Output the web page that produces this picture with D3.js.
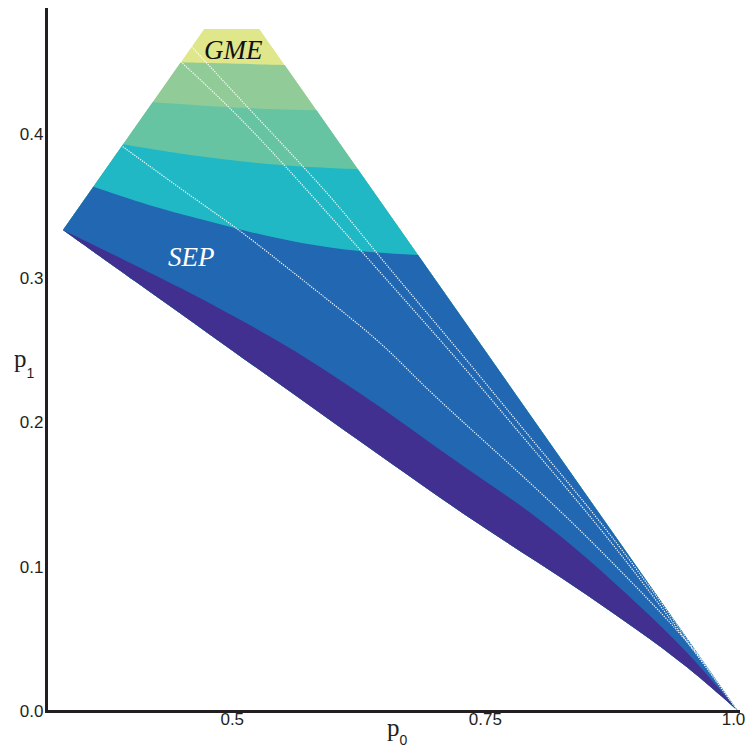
<!DOCTYPE html>
<html>
<head>
<meta charset="utf-8">
<script src="https://cdn.jsdelivr.net/npm/d3@7"></script>
<style>
body { margin: 0; background: #fff; }
svg { display: block; }
</style>
</head>
<body>
<svg id="chart" width="746" height="747"></svg>
<script>
// region p0 >= p1 >= p2, cut at the top
var topP1 = 0.4726;
// lower edge of the region, (p0, p1)
var lowerEdge = [[0.3333,0.3333],[0.40,0.300],[0.50,0.250],[0.60,0.200],[0.70,0.1505],
  [0.75,0.1265],[0.80,0.104],[0.85,0.081],[0.90,0.0565],[0.95,0.031],[1.0,0.0]];

// contour boundaries, bottom to top
var purpleTop = [[0.3333,0.3333],[0.40,0.3105],[0.45,0.2931],[0.50,0.2744],[0.55,0.2550],[0.60,0.2328],
  [0.65,0.2093],[0.70,0.1836],[0.75,0.1594],[0.80,0.1355],[0.85,0.1067],[0.90,0.0748],[0.95,0.0416],[1.0,0.0]];
var blueTop = [[0.3627,0.3634],[0.4193,0.3500],[0.4686,0.3410],[0.5180,0.3318],[0.5674,0.3240],[0.6267,0.3182],[0.684,0.316]];
var tealTop = [[0.3923,0.3927],[0.4193,0.3895],[0.4686,0.3843],[0.5180,0.3800],[0.5674,0.3772],[0.625,0.3755]];
var greenTop = [[0.4219,0.4218],[0.4686,0.4196],[0.5180,0.4175],[0.5839,0.4163]];
var lightTop = [[0.4496,0.4495],[0.4983,0.4487],[0.5526,0.4476]];

var bandColors = ["#41308f", "#2167b1", "#1fb8c4", "#66c4a3", "#91cc98", "#e0e78b"];
var bandBounds = [purpleTop, blueTop, tealTop, greenTop, lightTop];

// dotted white curves
var dotA = [[0.4496,0.4500],[0.4983,0.4184],[0.5506,0.3798],[0.6296,0.3174],[0.7353,0.2340],[0.7896,0.1878],[0.8835,0.1116],[1.0,0.0]];
var dotB = [[0.4604,0.4604],[0.5180,0.4165],[0.6020,0.3541],[0.6398,0.3195],[0.7353,0.2409],[0.7962,0.1878],[0.8835,0.1162],[1.0,0.0]];
var dotC = [[0.3923,0.3911],[0.4716,0.3507],[0.5081,0.3333],[0.5674,0.3001],[0.6497,0.2548],[0.6827,0.2294],
  [0.7481,0.1878],[0.8242,0.1393],[0.8835,0.0977],[0.9625,0.0402],[1.0,0.0]];

var xTicks = [0.5, 0.75, 1.0];
var xTickLabels = ["0.5", "0.75", "1.0"];
var yTicks = [0, 0.1, 0.2, 0.3, 0.4];
var yTickLabels = ["0.0", "0.1", "0.2", "0.3", "0.4"];

var svg = d3.select("#chart");
var x = d3.scaleLinear().domain([1/3, 1]).range([63, 738]);
var y = d3.scaleLinear().domain([0, 1/3]).range([711, 230]);

var smooth = d3.line().x(function (d) { return x(d[0]); }).y(function (d) { return y(d[1]); }).curve(d3.curveBasis);

function pt(p0, p1) { return x(p0) + "," + y(p1); }

// outline of the whole region
var outline = smooth(lowerEdge) + "L" + pt(1 - topP1, topP1) + "L" + pt(topP1, topP1) + "Z";

svg.append("clipPath").attr("id", "region")
  .append("path").attr("d", outline);

var g = svg.append("g").attr("clip-path", "url(#region)");

g.append("path").attr("d", outline).attr("fill", bandColors[5]);

// fill below each boundary, top to bottom
for (var i = bandBounds.length - 1; i >= 0; i--) {
  var b = bandBounds[i];
  var first = b[0], last = b[b.length - 1];
  var d = smooth(b) + "L" + pt(2, last[1]) + "L" + pt(2, -1) + "L" + pt(-1, -1) + "L" + pt(-1, first[1]) + "Z";
  g.append("path").attr("d", d).attr("fill", bandColors[i]);
}

[dotA, dotB, dotC].forEach(function (line) {
  g.append("path")
    .attr("d", smooth(line))
    .attr("fill", "none")
    .attr("stroke", "#ffffff")
    .attr("stroke-width", 1.2)
    .attr("stroke-dasharray", "1.2,1.2");
});

// annotations
svg.append("text").attr("x", x(0.4726)).attr("y", y(0.4518))
  .attr("font-family", "Liberation Serif").attr("font-style", "italic")
  .attr("font-size", 27).attr("fill", "#111").text("GME");
svg.append("text").attr("x", x(0.437)).attr("y", y(0.3084))
  .attr("font-family", "Liberation Serif").attr("font-style", "italic")
  .attr("font-size", 27).attr("fill", "#fff").text("SEP");

// axes
var yAxis = svg.append("g").attr("transform", "translate(46.5,0)")
  .call(d3.axisLeft(y).tickValues(yTicks).tickSize(0).tickPadding(3)
    .tickFormat(function (d, i) { return yTickLabels[i]; }));
var xAxis = svg.append("g").attr("transform", "translate(0,711.5)")
  .call(d3.axisBottom(x).tickValues(xTicks).tickSize(0).tickPadding(1)
    .tickFormat(function (d, i) { return xTickLabels[i]; }));
[yAxis, xAxis].forEach(function (a) {
  a.select(".domain").remove();
  a.selectAll("text").attr("font-family", "Liberation Sans").attr("font-size", 17).attr("fill", "#231f20");
});
xAxis.selectAll(".tick").filter(function (d) { return d === 1; }).select("text").attr("dx", -5);

svg.append("line").attr("x1", 46.5).attr("x2", 46.5).attr("y1", 8).attr("y2", 713)
  .attr("stroke", "#231f20").attr("stroke-width", 3);
svg.append("line").attr("x1", 45).attr("x2", 740).attr("y1", 711.5).attr("y2", 711.5)
  .attr("stroke", "#231f20").attr("stroke-width", 3);

// axis titles
var t1 = svg.append("text").attr("x", 14).attr("y", 367)
  .attr("font-family", "Liberation Serif").attr("font-size", 25).attr("fill", "#231f20");
t1.append("tspan").text("p");
t1.append("tspan").attr("font-size", 14).attr("dy", 11).attr("font-family", "Liberation Sans").text("1");
var t0 = svg.append("text").attr("x", 387).attr("y", 736)
  .attr("font-family", "Liberation Serif").attr("font-size", 25).attr("fill", "#231f20");
t0.append("tspan").text("p");
t0.append("tspan").attr("font-size", 14).attr("dy", 9).attr("font-family", "Liberation Sans").text("0");
</script>
</body>
</html>
